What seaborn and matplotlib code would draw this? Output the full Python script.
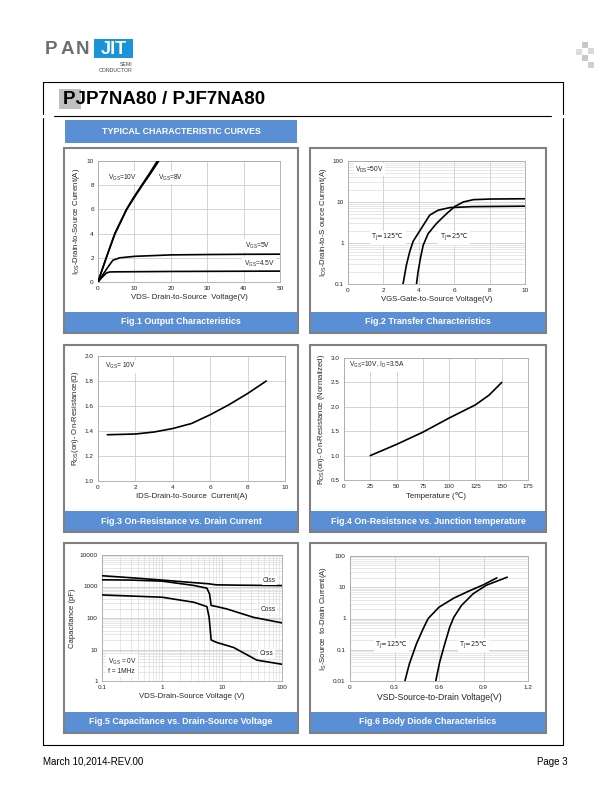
"""
Datasheet page 3 - typical characteristic curves (PJP7NA80 / PJF7NA80)
"""

import matplotlib
matplotlib.use("Agg")
import matplotlib.pyplot as plt
from matplotlib.patches import Rectangle
from matplotlib.ticker import LogLocator, FuncFormatter, NullFormatter, MultipleLocator
import seaborn as sns

# ---- Data ----
# Fig.1 output characteristics
f1_vds_10v = [0, 1, 2.5, 4.6, 7.8, 9.8, 12.0, 14.2, 16.3]
f1_id_10v = [0, 0.9, 2.2, 4.0, 6.0, 7.0, 8.0, 9.0, 10.0]
f1_vds_8v = [0, 1, 2.5, 4.7, 7.9, 10.0, 12.2, 14.5, 16.7]
f1_id_8v = [0, 0.9, 2.2, 4.0, 6.0, 7.0, 8.0, 9.0, 10.0]
f1_vds_5v = [0, 1, 2, 3, 4.1, 6, 10, 20, 30, 40, 50]
f1_id_5v = [0, 0.45, 0.9, 1.35, 1.8, 2.0, 2.12, 2.24, 2.27, 2.29, 2.3]
f1_vds_45v = [0, 1, 2.3, 3.2, 5, 10, 20, 30, 40, 50]
f1_id_45v = [0, 0.35, 0.74, 0.83, 0.84, 0.85, 0.87, 0.88, 0.89, 0.9]

# Fig.2 transfer characteristics
f2_vgs_125 = [3.11, 3.30, 3.49, 3.68, 4.06, 4.62, 5.09, 5.75, 7.0, 10.0]
f2_id_125 = [0.1, 0.29, 0.62, 1.1, 2.0, 4.8, 6.3, 7.3, 7.7, 7.9]
f2_vgs_25 = [3.87, 3.96, 4.09, 4.25, 4.53, 5.0, 5.57, 6.04, 6.51, 7.08, 8.0, 10.0]
f2_id_25 = [0.1, 0.2, 0.42, 0.89, 1.7, 3.0, 5.2, 7.8, 10.0, 11.4, 11.8, 12.0]

# Fig.3 on-resistance vs drain current
f3_ids = [0.5, 1, 2, 3, 4, 5, 6, 7, 8, 9]
f3_rds = [1.37, 1.372, 1.376, 1.392, 1.42, 1.46, 1.53, 1.61, 1.70, 1.80]

# Fig.4 on-resistance vs junction temperature
f4_temp = [25, 50, 75, 100, 125, 138, 150]
f4_rds = [1.0, 1.23, 1.48, 1.77, 2.04, 2.24, 2.5]

# Fig.5 capacitance vs drain-source voltage
f5_vds_ciss = [0.1, 0.3, 1, 3, 6, 8, 20, 100]
f5_ciss = [2200, 1900, 1600, 1350, 1220, 1130, 1100, 1070]
f5_vds_coss = [0.1, 0.3, 1, 3.4, 5.6, 6.2, 6.6, 8.2, 12, 33.5, 100]
f5_coss = [1630, 1600, 1480, 1080, 885, 580, 250, 230, 194, 105, 70]
f5_vds_crss = [0.1, 1, 3.4, 5.6, 6.1, 6.6, 8.2, 15.6, 38, 100]
f5_crss = [540, 457, 316, 230, 105, 20, 16.7, 11.6, 4.6, 3.4]

# Fig.6 body diode characteristics
f6_vsd_125 = [0.37, 0.40, 0.448, 0.493, 0.527, 0.60, 0.70, 0.80, 0.90, 0.99]
f6_is_125 = [0.01, 0.035, 0.155, 0.47, 1.0, 2.3, 4.5, 7.5, 12.0, 20.0]
f6_vsd_25 = [0.578, 0.605, 0.639, 0.673, 0.70, 0.751, 0.83, 0.919, 1.06]
f6_is_25 = [0.01, 0.041, 0.155, 0.54, 1.1, 2.6, 6.2, 11.6, 21.0]

captions = [
    "Fig.1 Output Characteristics",
    "Fig.2 Transfer Characteristics",
    "Fig.3 On-Resistance vs. Drain Current",
    "Fig.4 On-Resistsnce vs. Junction temperature",
    "Fig.5 Capacitance vs. Drain-Source Voltage",
    "Fig.6 Body Diode Characterisics",
]

# ---- Layout (pixels on a 612x792 page) ----
W, H = 612, 792
PANELS = [(64, 148, 298, 333), (310, 148, 546, 333),
          (64, 345, 298, 532), (310, 345, 546, 532),
          (64, 543, 298, 733), (310, 543, 546, 733)]
AXES = [(98, 161, 280, 282), (348, 161, 525, 284),
        (98, 356, 285, 481), (344, 358, 528, 480),
        (102, 555, 282, 681), (350, 556, 528, 681)]

BLUE = "#5a8fd6"
GRID = "#cccccc"
GRID_MINOR = "#dadada"
TICK_FS = 4.6
LABEL_FS = 5.6
NOTE_FS = 4.8

sns.set_theme(style="white")
plt.rcParams["font.family"] = ["Liberation Sans", "DejaVu Sans"]


def px_axes(fig, l, t, r, b):
    return fig.add_axes([l / W, 1 - b / H, (r - l) / W, (b - t) / H])


def style_axes(ax, xlabel, ylabel):
    ax.set_facecolor("white")
    for sp in ax.spines.values():
        sp.set_color("#a8a8a8")
        sp.set_linewidth(0.6)
    ax.tick_params(which="both", length=0, labelsize=TICK_FS, pad=3, colors="#222222")
    ax.grid(True, which="major", color=GRID, linewidth=0.6)
    ax.set_axisbelow(True)
    ax.set_xlabel(xlabel, fontsize=LABEL_FS, labelpad=2)
    ax.set_ylabel(ylabel, fontsize=LABEL_FS, labelpad=3)


def note(ax, x, y, s, ha="left", family=None):
    kw = dict(fontsize=NOTE_FS, ha=ha, va="center", zorder=5,
              bbox=dict(fc="white", ec="none", pad=1.0))
    if family:
        kw["family"] = family
    ax.text(x, y, s, **kw)


def log_fmt(v, pos):
    return f"{v:g}"


def curve(ax, x, y):
    sns.lineplot(x=x, y=y, ax=ax, color="black", linewidth=1.2, sort=False,
                 estimator=None, zorder=4)


fig = plt.figure(figsize=(W / 100, H / 100), dpi=100)

# ---- Page decoration ----
bg = fig.add_axes([0, 0, 1, 1])
bg.set_xlim(0, W)
bg.set_ylim(H, 0)
bg.axis("off")

# logo
for lx, ch in zip((45, 61, 76), "PAN"):
    bg.text(lx, 49, ch, fontsize=13.5, fontweight="bold", color="#6d6e71", va="center", ha="left")
bg.add_patch(Rectangle((94, 39), 39, 19, fc="#1a94d6", ec="none"))
bg.text(113.5, 49, "JIT", fontsize=13, fontweight="bold", color="white", va="center", ha="center")
bg.text(133, 64, "SEMI", fontsize=3.8, color="#444444", ha="right", va="center")
bg.text(133, 71, "CONDUCTOR", fontsize=3.8, color="#444444", ha="right", va="center")
for (sx, sy, c) in [(582, 42, "#c8c8c8"), (588, 48, "#d8d8d8"), (576, 49, "#dcdcdc"),
                    (582, 55, "#c8c8c8"), (588, 62, "#d0d0d0")]:
    bg.add_patch(Rectangle((sx, sy), 6, 6, fc=c, ec="none"))

# frame
bg.plot([43, 563], [82, 82], color="black", lw=0.8)
bg.plot([43, 563], [745, 745], color="black", lw=0.8)
for xf in (43, 563):
    bg.plot([xf, xf], [82, 114], color="black", lw=0.8)
    bg.plot([xf, xf], [118, 745], color="black", lw=0.8)
bg.plot([54, 551], [116, 116], color="black", lw=0.8)

# title
bg.add_patch(Rectangle((59, 89), 22, 20, fc="#c0c0c0", ec="none"))
bg.text(63, 100, "PJP7NA80 / PJF7NA80", fontsize=13.5, fontweight="bold", color="black",
        va="center", ha="left")

# section header
bg.add_patch(Rectangle((65, 120), 232, 23, fc=BLUE, ec="none"))
bg.text(181, 131.5, "TYPICAL CHARACTERISTIC CURVES", fontsize=6.4, fontweight="bold",
        color="white", va="center", ha="center")

# panels
for (l, t, r, b), cap in zip(PANELS, captions):
    bg.add_patch(Rectangle((l, b - 21), r - l, 20, fc=BLUE, ec="none"))
    bg.add_patch(Rectangle((l, t), r - l, b - t, fc="none", ec="#808080", lw=1.5))
    bg.text((l + r) / 2, b - 11, cap, fontsize=6.4, fontweight="bold", color="white",
            ha="center", va="center")

# footer
bg.text(43, 762, "March 10,2014-REV.00", fontsize=7, color="black", va="center", ha="left")
bg.text(568, 762, "Page 3", fontsize=7, color="black", va="center", ha="right")

# ---- Fig.1 ----
ax1 = px_axes(fig, *AXES[0])
curve(ax1, f1_vds_10v, f1_id_10v)
curve(ax1, f1_vds_8v, f1_id_8v)
curve(ax1, f1_vds_5v, f1_id_5v)
curve(ax1, f1_vds_45v, f1_id_45v)
ax1.set_xlim(0, 50)
ax1.set_ylim(0, 10)
ax1.xaxis.set_major_locator(MultipleLocator(10))
ax1.yaxis.set_major_locator(MultipleLocator(2))
style_axes(ax1, "VDS- Drain-to-Source  Voltage(V)", r"I$_\mathregular{DS}$-Drain-to-Source Current(A)")
note(ax1, 2.8, 8.6, r"V$_\mathregular{GS}$=10V")
note(ax1, 16.5, 8.6, r"V$_\mathregular{GS}$=8V")
note(ax1, 40.5, 3.0, r"V$_\mathregular{GS}$=5V")
note(ax1, 40.0, 1.5, r"V$_\mathregular{GS}$=4.5V")

# ---- Fig.2 ----
ax2 = px_axes(fig, *AXES[1])
curve(ax2, f2_vgs_125, f2_id_125)
curve(ax2, f2_vgs_25, f2_id_25)
ax2.set_yscale("log")
ax2.set_xlim(0, 10)
ax2.set_ylim(0.1, 100)
ax2.xaxis.set_major_locator(MultipleLocator(2))
ax2.yaxis.set_major_locator(LogLocator(base=10))
ax2.yaxis.set_minor_locator(LogLocator(base=10, subs=range(2, 10)))
ax2.yaxis.set_major_formatter(FuncFormatter(log_fmt))
ax2.yaxis.set_minor_formatter(NullFormatter())
style_axes(ax2, "VGS-Gate-to-Source Voltage(V)", r"I$_\mathregular{DS}$-Drain-to-S ource Current(A)")
ax2.grid(True, which="minor", axis="y", color=GRID_MINOR, linewidth=0.45)
note(ax2, 0.4, 62, r"V$_\mathregular{DS}$=50V")
note(ax2, 2.25, 1.35, r"T$_\mathregular{J}$=125℃", ha="center", family="DejaVu Sans")
note(ax2, 6.0, 1.35, r"T$_\mathregular{J}$=25℃", ha="center", family="DejaVu Sans")

# ---- Fig.3 ----
ax3 = px_axes(fig, *AXES[2])
curve(ax3, f3_ids, f3_rds)
ax3.set_xlim(0, 10)
ax3.set_ylim(1.0, 2.0)
ax3.xaxis.set_major_locator(MultipleLocator(2))
ax3.yaxis.set_major_locator(MultipleLocator(0.2))
ax3.yaxis.set_major_formatter(FuncFormatter(lambda v, p: f"{v:.1f}"))
style_axes(ax3, "IDS-Drain-to-Source  Current(A)", r"R$_\mathregular{DS}$(on)- On-Resistance(Ω)")
note(ax3, 0.4, 1.92, r"V$_\mathregular{GS}$= 10V")

# ---- Fig.4 ----
ax4 = px_axes(fig, *AXES[3])
curve(ax4, f4_temp, f4_rds)
ax4.set_xlim(0, 175)
ax4.set_ylim(0.5, 3.0)
ax4.xaxis.set_major_locator(MultipleLocator(25))
ax4.yaxis.set_major_locator(MultipleLocator(0.5))
ax4.yaxis.set_major_formatter(FuncFormatter(lambda v, p: f"{v:.1f}"))
style_axes(ax4, "Temperature (℃)", r"R$_\mathregular{DS}$(on)- On-Resistance (Normalized)")
note(ax4, 5, 2.85, r"V$_\mathregular{GS}$=10V, I$_\mathregular{D}$=3.5A")

# ---- Fig.5 ----
ax5 = px_axes(fig, *AXES[4])
curve(ax5, f5_vds_ciss, f5_ciss)
curve(ax5, f5_vds_coss, f5_coss)
curve(ax5, f5_vds_crss, f5_crss)
ax5.set_xscale("log")
ax5.set_yscale("log")
ax5.set_xlim(0.1, 100)
ax5.set_ylim(1, 10000)
for axis in (ax5.xaxis, ax5.yaxis):
    axis.set_major_locator(LogLocator(base=10))
    axis.set_minor_locator(LogLocator(base=10, subs=range(2, 10)))
    axis.set_major_formatter(FuncFormatter(log_fmt))
    axis.set_minor_formatter(NullFormatter())
style_axes(ax5, "VDS-Drain-Source Voltage (V)", "Capacitance (pF)")
ax5.grid(True, which="minor", color=GRID_MINOR, linewidth=0.45)
note(ax5, 62, 1550, "Ciss", ha="center")
note(ax5, 58, 185, "Coss", ha="center")
note(ax5, 55, 7.5, "Crss", ha="center")
ax5.text(0.125, 3.0, "V$_\\mathregular{GS}$ = 0V\nf = 1MHz", fontsize=NOTE_FS, ha="left",
         va="center", zorder=5, linespacing=1.3, bbox=dict(fc="white", ec="none", pad=1.0))

# ---- Fig.6 ----
ax6 = px_axes(fig, *AXES[5])
curve(ax6, f6_vsd_125, f6_is_125)
curve(ax6, f6_vsd_25, f6_is_25)
ax6.set_yscale("log")
ax6.set_xlim(0, 1.2)
ax6.set_ylim(0.01, 100)
ax6.xaxis.set_major_locator(MultipleLocator(0.3))
ax6.xaxis.set_major_formatter(FuncFormatter(lambda v, p: f"{v:g}"))
ax6.yaxis.set_major_locator(LogLocator(base=10))
ax6.yaxis.set_minor_locator(LogLocator(base=10, subs=range(2, 10)))
ax6.yaxis.set_major_formatter(FuncFormatter(log_fmt))
ax6.yaxis.set_minor_formatter(NullFormatter())
style_axes(ax6, "VSD-Source-to-Drain Voltage(V)", r"I$_\mathregular{S}$-Source  to-Drain Current(A)")
ax6.xaxis.label.set_size(6.2)
ax6.grid(True, which="minor", axis="y", color=GRID_MINOR, linewidth=0.45)
note(ax6, 0.28, 0.14, r"T$_\mathregular{J}$=125℃", ha="center", family="DejaVu Sans")
note(ax6, 0.834, 0.14, r"T$_\mathregular{J}$=25℃", ha="center", family="DejaVu Sans")

fig.savefig("out.png", dpi=100)
plt.close(fig)
